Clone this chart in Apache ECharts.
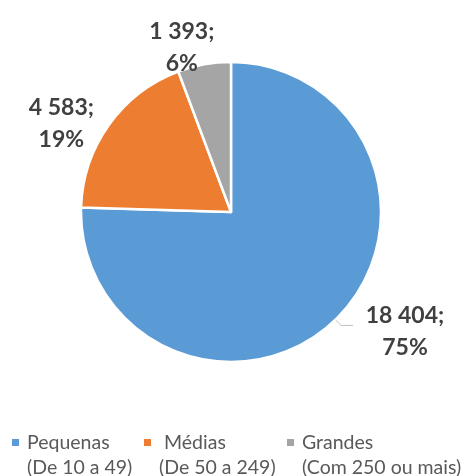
<!DOCTYPE html>
<html><head><meta charset="utf-8">
<script src="https://cdn.jsdelivr.net/npm/echarts@6/dist/echarts.min.js"></script>
<style>html,body{margin:0;padding:0;background:#fff}#c{width:464px;height:476px}</style>
</head><body><div id="c"></div>
<script>
var categories = ['Pequenas', ' Médias', 'Grandes'];
var subLabels = ['(De 10 a 49)', '(De 50 a 249)', '(Com 250 ou mais)'];
var values = [18404, 4583, 1393];
var percentLabels = ['75%', '19%', '6%'];
var valueLabels = ['18 404', '4 583', '1 393'];
var colors = ['#5B9BD5', '#ED7D31', '#A5A5A5'];

var labelOffsets = [[47, 6], [-27, 1], [-4, -9]];
var legendLefts = [6, 138, 281];

var chart = echarts.init(document.getElementById('c'), null, {renderer: 'canvas'});
var data = categories.map(function (c, i) {
  return {
    name: c, value: values[i],
    itemStyle: {color: colors[i]},
    labelLine: {show: i === 0}
  };
});
var rich = {
  g: {width: 8},
  ind: {width: 15}
};
colors.forEach(function (col, i) {
  rich['sq' + i] = {width: 7, height: 7, backgroundColor: col};
});
var legends = categories.map(function (c, i) {
  return {
    data: [c],
    left: legendLefts[i], top: 430, padding: 0,
    itemWidth: 0, itemHeight: 0,
    selectedMode: false,
    formatter: function (name) {
      var k = categories.indexOf(name);
      return '{sq' + k + '|}{g|}' + name + '\n{ind|}' + subLabels[k];
    },
    textStyle: {fontFamily: 'Lato', fontSize: 19.5, color: '#595959', lineHeight: 25, rich: rich}
  };
});
chart.setOption({
  animation: false,
  legend: legends,
  series: [{
    type: 'pie',
    center: [231, 212],
    radius: [0, 150],
    startAngle: 90,
    clockwise: true,
    data: data,
    itemStyle: {borderColor: '#fff', borderWidth: 2.5},
    label: {
      show: true,
      position: 'outside',
      formatter: function (p) {
        return valueLabels[p.dataIndex] + ';\n' + percentLabels[p.dataIndex];
      },
      fontFamily: 'Lato', fontWeight: 'bold', fontSize: 23, lineHeight: 32,
      color: '#404040'
    },
    labelLine: {length: 8, length2: 12, lineStyle: {color: '#BFBFBF', width: 1}, smooth: false},
    labelLayout: function (p) {
      var o = labelOffsets[p.dataIndex];
      return {dx: o[0], dy: o[1], align: 'center'};
    }
  }]
});
</script></body></html>
